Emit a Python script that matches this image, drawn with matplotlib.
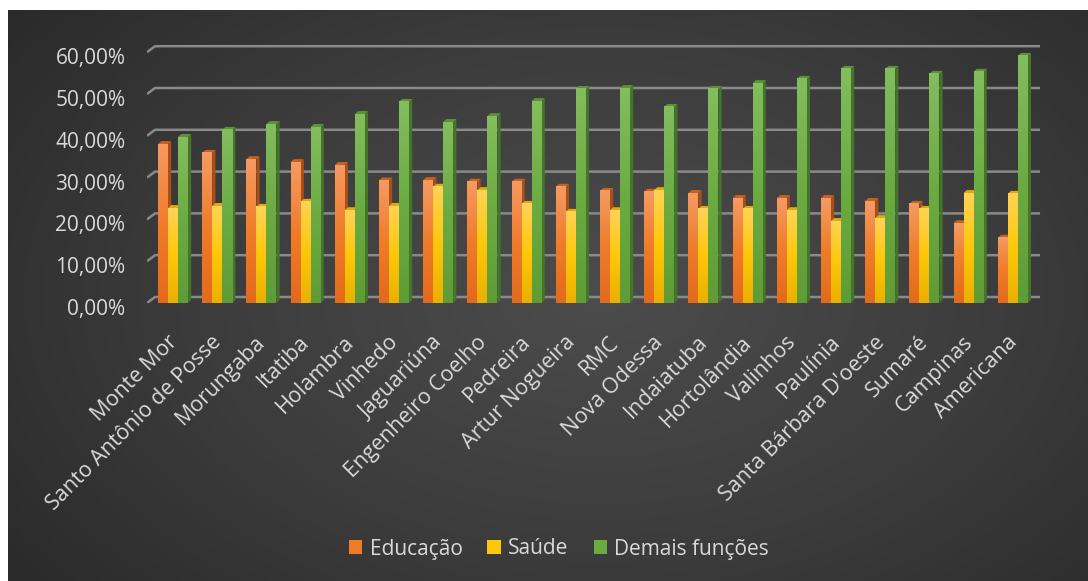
import numpy as np
import matplotlib
matplotlib.use('Agg')
import matplotlib.pyplot as plt
from matplotlib.colors import LinearSegmentedColormap
from matplotlib.patches import Patch
import matplotlib.transforms as mtransforms

plt.rcParams['font.family'] = ['Open Sans', 'DejaVu Sans']

# data: share of spending per function (%)
municipios = ['Monte Mor', 'Santo Antônio de Posse', 'Morungaba', 'Itatiba', 'Holambra',
              'Vinhedo', 'Jaguariúna', 'Engenheiro Coelho', 'Pedreira', 'Artur Nogueira',
              'RMC', 'Nova Odessa', 'Indaiatuba', 'Hortolândia', 'Valinhos', 'Paulínia',
              "Santa Bárbara D'oeste", 'Sumaré', 'Campinas', 'Americana']
educacao = [38.0, 35.9, 34.4, 33.7, 33.0, 29.3, 29.4, 29.0, 29.0, 27.8,
            26.8, 26.6, 26.3, 25.1, 25.1, 25.1, 24.4, 23.7, 19.1, 15.6]
saude = [22.7, 23.2, 23.0, 24.2, 22.2, 23.2, 27.8, 27.0, 23.7, 21.8,
         22.2, 27.0, 22.5, 22.5, 22.2, 19.6, 20.3, 22.5, 26.3, 26.1]
demais = [39.7, 41.4, 42.8, 42.1, 45.2, 48.1, 43.3, 44.7, 48.3, 51.2,
          51.4, 46.9, 51.2, 52.6, 53.6, 56.0, 56.0, 54.8, 55.3, 59.1]
series_names = ['Educação', 'Saúde', 'Demais funções']
yticks = [0, 10, 20, 30, 40, 50, 60]
ytick_labels = ['0,00%', '10,00%', '20,00%', '30,00%', '40,00%', '50,00%', '60,00%']

# face gradients (bottom, middle, top), side and top colours per series
face_cols = [('#e36a1c', '#f07c2a', '#f59a62'),
             ('#e9b000', '#ffc709', '#ffd355'),
             ('#5f9c36', '#6cab42', '#83bd5e')]
side_cols = ['#a9501a', '#c49100', '#44752a']
top_cols = ['#c9621f', '#e0aa10', '#5c9238']
legend_cols = ['#f07c2a', '#ffc709', '#6cab42']
text_col = '#d9d9d9'
grid_col = '#8a8a8a'

W, H = 1088, 581
fig = plt.figure(figsize=(W / 100, H / 100), dpi=100, facecolor='white')

# dark background with soft radial highlight
bg = fig.add_axes([8 / W, 0, 1 - 8 / W, 1 - 10 / H], zorder=-10)
yy, xx = np.mgrid[0:1:300j, 0:1:600j]
r = np.sqrt(((xx - 0.55) / 0.75) ** 2 + ((yy - 0.5) / 0.9) ** 2)
bg_cmap = LinearSegmentedColormap.from_list('bg', ['#4c4c4c', '#3c3c3c', '#272727'])
bg.imshow(np.clip(r, 0, 1), cmap=bg_cmap, aspect='auto', vmin=0, vmax=1,
          interpolation='bicubic')
bg.axis('off')

px_per_unit = 4.18
ax_left, ax_right, ax_bottom, ax_top = 147, 1040, 303, 40
ax = fig.add_axes([ax_left / W, 1 - ax_bottom / H, (ax_right - ax_left) / W,
                   (ax_bottom - ax_top) / H])
ax.patch.set_alpha(0)
n = len(demais)
spacing = 44.2
x_lo = -(173 - ax_left) / spacing
x_hi = x_lo + (ax_right - ax_left) / spacing
y_hi = (ax_bottom - ax_top) / px_per_unit

# back-wall gridlines with the short slanted floor edge
dgx, dgy = 8 / spacing, 6 / px_per_unit
for v in yticks:
    ax.plot([x_lo, x_lo + dgx, x_hi], [v, v + dgy, v + dgy], color=grid_col,
            lw=1.8, zorder=1, solid_capstyle='butt')

bw = 10.0 / spacing
dx, dy = 3.2 / spacing, 3.0 / px_per_unit
grad = np.linspace(0, 1, 64).reshape(-1, 1)
x = np.arange(n)
for j, vals in enumerate([educacao, saude, demais]):
    cmap = LinearSegmentedColormap.from_list('s%d' % j, list(face_cols[j]))
    z = 3 + j
    for xi, v in zip(x + (j - 1) * bw - bw / 2, vals):
        x1 = xi + bw
        ax.fill([x1, x1 + dx, x1 + dx, x1], [0, dy, v + dy, v],
                color=side_cols[j], lw=0, zorder=z)
        ax.fill([xi, xi + dx, x1 + dx, x1], [v, v + dy, v + dy, v],
                color=top_cols[j], lw=0, zorder=z)
        ax.imshow(grad, extent=(xi, x1, 0, v), origin='lower', cmap=cmap,
                  aspect='auto', interpolation='bicubic', zorder=z)

ax.set_xlim(x_lo, x_hi)
ax.set_ylim(0, y_hi)
for s in ax.spines.values():
    s.set_visible(False)

ax.set_yticks(yticks)
ax.set_yticklabels(ytick_labels, fontsize=15, color=text_col)
ax.tick_params(axis='y', length=0, pad=15.5)
off = mtransforms.ScaledTranslation(0, -4 / 100, fig.dpi_scale_trans)
for lab in ax.get_yticklabels():
    lab.set_transform(lab.get_transform() + off)

ax.set_xticks(x)
ax.set_xticklabels(municipios, fontsize=15.5, color=text_col, rotation=45,
                   ha='right', va='center', rotation_mode='anchor')
ax.tick_params(axis='x', length=0, pad=26)
xoff = mtransforms.ScaledTranslation(1 / 100, 0, fig.dpi_scale_trans)
for lab in ax.get_xticklabels():
    lab.set_transform(lab.get_transform() + xoff)

handles = [Patch(facecolor=c, edgecolor='none') for c in legend_cols]
fig.legend(handles, series_names, loc='center', bbox_to_anchor=(559 / W, 1 - 549 / H),
           ncol=3, frameon=False, fontsize=15, labelcolor=text_col,
           handlelength=0.65, handleheight=0.65, handletextpad=0.35,
           columnspacing=1.2)

fig.savefig('out.png', dpi=100, facecolor='white')
